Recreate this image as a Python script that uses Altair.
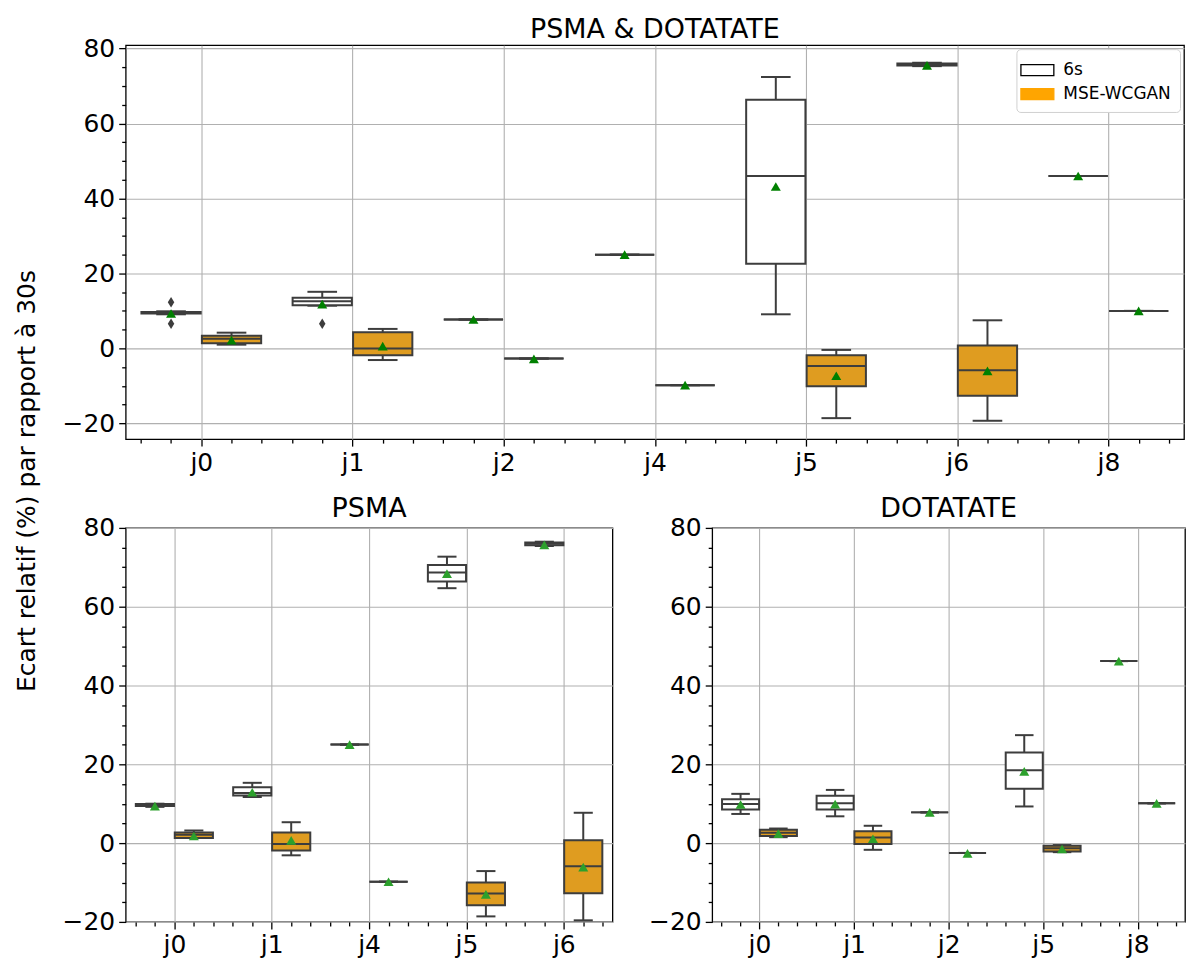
import altair as alt
import pandas as pd
import numpy as np

FONT = "DejaVu Sans"
SERIES = ["6s", "MSE-WCGAN"]
BOX_FILL = ["#ffffff", "#df9c20"]
LEGEND_FILL = ["#ffffff", "#ffa500"]
LEGEND_STROKE = ["#000000", "#ffa500"]
EDGE = "#3d3d3d"
Y_LABEL = "Ecart relatif (%) par rapport à 30s"

# ---------------- Panel 1 : PSMA & DOTATATE ----------------
all_title = "PSMA & DOTATATE"
all_cats = ["j0", "j1", "j2", "j4", "j5", "j6", "j8"]
all_6s_lo = [9.1, 11.4, 7.7, 25.0, 9.1, 75.3, 46.0]
all_6s_q1 = [9.3, 11.5, 7.7, 25.0, 22.6, 75.5, 46.0]
all_6s_med = [9.5, 12.6, 7.7, 25.0, 46.0, 75.8, 46.0]
all_6s_q3 = [9.7, 13.5, 7.7, 25.0, 66.3, 76.0, 46.0]
all_6s_hi = [9.9, 15.1, 7.7, 25.0, 72.4, 76.2, 46.0]
all_6s_mean = [9.3, 11.8, 7.7, 25.0, 43.2, 75.5, 46.0]
all_gan_lo = [1.0, -3.1, -2.7, -9.8, -18.6, -19.3, 10.0]
all_gan_q1 = [1.4, -1.8, -2.7, -9.8, -10.1, -12.6, 10.0]
all_gan_med = [2.6, 0.0, -2.7, -9.8, -4.7, -5.8, 10.0]
all_gan_q3 = [3.4, 4.3, -2.7, -9.8, -1.8, 0.8, 10.0]
all_gan_hi = [4.2, 5.2, -2.7, -9.8, -0.4, 7.5, 10.0]
all_gan_mean = [2.2, 0.6, -2.8, -9.8, -7.3, -6.0, 10.0]
all_out_cat = ["j0", "j0", "j1"]
all_out_series = ["6s", "6s", "6s"]
all_out_val = [12.3, 6.6, 6.6]
all_ydomain = [-24.2, 80.9]

# ---------------- Panel 2 : PSMA ----------------
psma_title = "PSMA"
psma_cats = ["j0", "j1", "j4", "j5", "j6"]
psma_6s_lo = [9.2, 11.7, 25.0, 64.7, 75.4]
psma_6s_q1 = [9.4, 12.1, 25.0, 66.4, 75.6]
psma_6s_med = [9.7, 12.7, 25.0, 68.7, 76.0]
psma_6s_q3 = [9.9, 14.2, 25.0, 70.6, 76.3]
psma_6s_hi = [10.0, 15.3, 25.0, 72.7, 76.5]
psma_6s_mean = [9.4, 12.9, 25.0, 68.4, 75.7]
psma_gan_lo = [1.3, -3.1, -9.8, -18.6, -19.6]
psma_gan_q1 = [1.3, -1.9, -9.8, -15.8, -12.7]
psma_gan_med = [2.1, -0.2, -9.8, -12.8, -5.9]
psma_gan_q3 = [2.7, 2.7, -9.8, -10.0, 0.7]
psma_gan_hi = [3.2, 5.3, -9.8, -7.1, 7.7]
psma_gan_mean = [1.8, 0.7, -9.8, -13.0, -6.1]

# ---------------- Panel 3 : DOTATATE ----------------
dota_title = "DOTATATE"
dota_cats = ["j0", "j1", "j2", "j5", "j8"]
dota_6s_lo = [7.4, 6.8, 7.8, 9.3, 46.2]
dota_6s_q1 = [8.5, 8.5, 7.8, 13.8, 46.2]
dota_6s_med = [9.9, 10.1, 7.8, 18.5, 46.2]
dota_6s_q3 = [11.1, 12.0, 7.8, 23.0, 46.2]
dota_6s_hi = [12.5, 13.5, 7.8, 27.4, 46.2]
dota_6s_mean = [9.8, 9.9, 7.8, 18.2, 46.2]
dota_gan_lo = [1.5, -1.7, -2.5, -2.3, 10.1]
dota_gan_q1 = [1.8, -0.2, -2.5, -2.1, 10.1]
dota_gan_med = [2.6, 1.4, -2.5, -1.3, 10.1]
dota_gan_q3 = [3.4, 3.0, -2.5, -0.7, 10.1]
dota_gan_hi = [3.7, 4.4, -2.5, -0.5, 10.1]
dota_gan_mean = [2.4, 1.1, -2.6, -1.5, 10.1]

bottom_ydomain = [-20, 80]


def build_df(cats, s6, sg):
    rows = []
    for s_i, (name, st) in enumerate(zip(SERIES, [s6, sg])):
        off = -0.2 if s_i == 0 else 0.2
        for i, c in enumerate(cats):
            ctr = i + off
            rows.append(dict(cat=c, series=name, fillc=BOX_FILL[s_i],
                             lo=st[0][i], q1=st[1][i], med=st[2][i], q3=st[3][i],
                             hi=st[4][i], mean=st[5][i], center=ctr,
                             left=ctr - 0.196, right=ctr + 0.196,
                             capl=ctr - 0.098, capr=ctr + 0.098))
    return pd.DataFrame(rows)


def x_axis(cats):
    n = len(cats)
    vals = [round(float(v), 1) for v in np.arange(-0.4, n - 0.5 + 1e-9, 0.2)]
    arr = "[" + ",".join("'%s'" % c for c in cats) + "]"
    major = "abs(datum.value - round(datum.value)) < 0.01"
    return alt.Axis(values=vals, title=None, grid=True,
                    labelExpr="(%s) ? %s[round(datum.value)] : ''" % (major, arr),
                    gridOpacity={"condition": {"test": major, "value": 1}, "value": 0},
                    tickSize={"condition": {"test": major, "value": 7}, "value": 4},
                    labelOverlap=False, labelFlush=False, labelPadding=4)


def y_axis(dom):
    lo = int(np.ceil(dom[0] / 5.0) * 5)
    hi = int(np.floor(dom[1] / 5.0) * 5)
    vals = list(range(lo, hi + 1, 5))
    major = "datum.value % 20 === 0"
    return alt.Axis(values=vals, title=None, grid=True,
                    labelExpr="(%s) ? datum.label : ''" % major,
                    gridOpacity={"condition": {"test": major, "value": 1}, "value": 0},
                    tickSize={"condition": {"test": major, "value": 7}, "value": 4},
                    labelOverlap=False, labelFlush=False, labelPadding=4)


def panel(title, cats, s6, sg, ydom, width, height, mean_color,
          out_cat=None, out_series=None, out_val=None, legend=False):
    df = build_df(cats, s6, sg)
    n = len(cats)
    xs = alt.Scale(domain=[-0.5, n - 0.5], nice=False, zero=False)
    ys = alt.Scale(domain=ydom, nice=False, zero=False)
    xa = x_axis(cats)
    ya = y_axis(ydom)
    base = alt.Chart(df)

    whisk = base.mark_rule(color=EDGE, strokeWidth=2).encode(
        x=alt.X("center:Q", scale=xs, axis=xa),
        y=alt.Y("lo:Q", scale=ys, axis=ya), y2="hi:Q")
    cap_lo = base.mark_rule(color=EDGE, strokeWidth=2).encode(
        x=alt.X("capl:Q", scale=xs, axis=xa), x2="capr:Q",
        y=alt.Y("lo:Q", scale=ys, axis=ya))
    cap_hi = base.mark_rule(color=EDGE, strokeWidth=2).encode(
        x=alt.X("capl:Q", scale=xs, axis=xa), x2="capr:Q",
        y=alt.Y("hi:Q", scale=ys, axis=ya))
    box = base.mark_rect(stroke=EDGE, strokeWidth=2).encode(
        x=alt.X("left:Q", scale=xs, axis=xa), x2="right:Q",
        y=alt.Y("q1:Q", scale=ys, axis=ya), y2="q3:Q",
        color=alt.Color("fillc:N", scale=None))
    med = base.mark_rule(color=EDGE, strokeWidth=2).encode(
        x=alt.X("left:Q", scale=xs, axis=xa), x2="right:Q",
        y=alt.Y("med:Q", scale=ys, axis=ya))
    mean = base.mark_point(shape="triangle-up", filled=True, size=100,
                           color=mean_color, opacity=1, strokeWidth=0).encode(
        x=alt.X("center:Q", scale=xs, axis=xa),
        y=alt.Y("mean:Q", scale=ys, axis=ya))
    layers = [whisk, cap_lo, cap_hi, box, med, mean]

    if out_val:
        odf = pd.DataFrame({"cat": out_cat, "series": out_series, "val": out_val})
        odf["pos"] = [cats.index(c) + (-0.2 if s == SERIES[0] else 0.2)
                      for c, s in zip(odf["cat"], odf["series"])]
        outl = alt.Chart(odf).mark_point(
            shape="M0,-1L0.62,0L0,1L-0.62,0Z", filled=True, size=110,
            color=EDGE, opacity=1, strokeWidth=0).encode(
            x=alt.X("pos:Q", scale=xs, axis=xa),
            y=alt.Y("val:Q", scale=ys, axis=ya))
        layers.append(outl)

    if legend:
        leg = alt.Legend(title=None, orient="top-right", offset=4,
                         labelFontSize=17, labelFont=FONT, labelColor="black",
                         symbolType="M-1.5,-0.5L1.5,-0.5L1.5,0.5L-1.5,0.5Z",
                         symbolSize=484, symbolStrokeWidth=1.3, symbolOpacity=1,
                         labelOffset=14, rowPadding=3, padding=9,
                         fillColor="white", strokeColor="#d0d0d0",
                         cornerRadius=4)
        dummy = base.transform_filter("false").mark_rect(strokeWidth=1.3).encode(
            x=alt.X("left:Q", scale=xs, axis=xa), x2="right:Q",
            y=alt.Y("q1:Q", scale=ys, axis=ya), y2="q3:Q",
            fill=alt.Fill("series:N", scale=alt.Scale(domain=SERIES, range=LEGEND_FILL), legend=leg),
            stroke=alt.Stroke("series:N", scale=alt.Scale(domain=SERIES, range=LEGEND_STROKE), legend=leg))
        layers.append(dummy)

    return alt.layer(*layers).properties(
        width=width, height=height,
        title=alt.TitleParams(title, fontSize=27, font=FONT, fontWeight="normal",
                              color="black", offset=-7))


top = panel(all_title, all_cats,
            (all_6s_lo, all_6s_q1, all_6s_med, all_6s_q3, all_6s_hi, all_6s_mean),
            (all_gan_lo, all_gan_q1, all_gan_med, all_gan_q3, all_gan_hi, all_gan_mean),
            all_ydomain, 1061, 395, "#008000",
            all_out_cat, all_out_series, all_out_val, legend=True)
bl = panel(psma_title, psma_cats,
           (psma_6s_lo, psma_6s_q1, psma_6s_med, psma_6s_q3, psma_6s_hi, psma_6s_mean),
           (psma_gan_lo, psma_gan_q1, psma_gan_med, psma_gan_q3, psma_gan_hi, psma_gan_mean),
           bottom_ydomain, 488, 395, "#2ca02c")
br = panel(dota_title, dota_cats,
           (dota_6s_lo, dota_6s_q1, dota_6s_med, dota_6s_q3, dota_6s_hi, dota_6s_mean),
           (dota_gan_lo, dota_gan_q1, dota_gan_med, dota_gan_q3, dota_gan_hi, dota_gan_mean),
           bottom_ydomain, 474, 395, "#2ca02c")

label = alt.Chart(pd.DataFrame({"t": [Y_LABEL]})).mark_text(
    angle=270, fontSize=25, font=FONT, color="black", align="center", baseline="middle"
).encode(text="t:N", x=alt.value(18), y=alt.value(437)).properties(
    width=45, height=930, view=alt.ViewBackground(stroke="transparent"))

indep = dict(x="independent", y="independent", fill="independent", stroke="independent")
bottom = alt.hconcat(bl, br, spacing=34).resolve_scale(**indep).resolve_legend(
    fill="independent", stroke="independent")
right = alt.vconcat(top, bottom, spacing=18).resolve_scale(**indep).resolve_legend(
    fill="independent", stroke="independent")
chart = alt.hconcat(label, right, spacing=6).resolve_scale(**indep).resolve_legend(
    fill="independent", stroke="independent").properties(
    padding={"left": 0, "top": 5, "right": 0, "bottom": 0}).configure(
    font=FONT
).configure_view(stroke="black", strokeWidth=1.3).configure_axis(
    domain=False, labelFont=FONT, labelFontSize=25, labelColor="black",
    tickColor="black", tickWidth=1.3, gridColor="#b0b0b0", gridWidth=1.1
)

chart.save("out.html", embed_options={"renderer": "svg", "actions": False})
